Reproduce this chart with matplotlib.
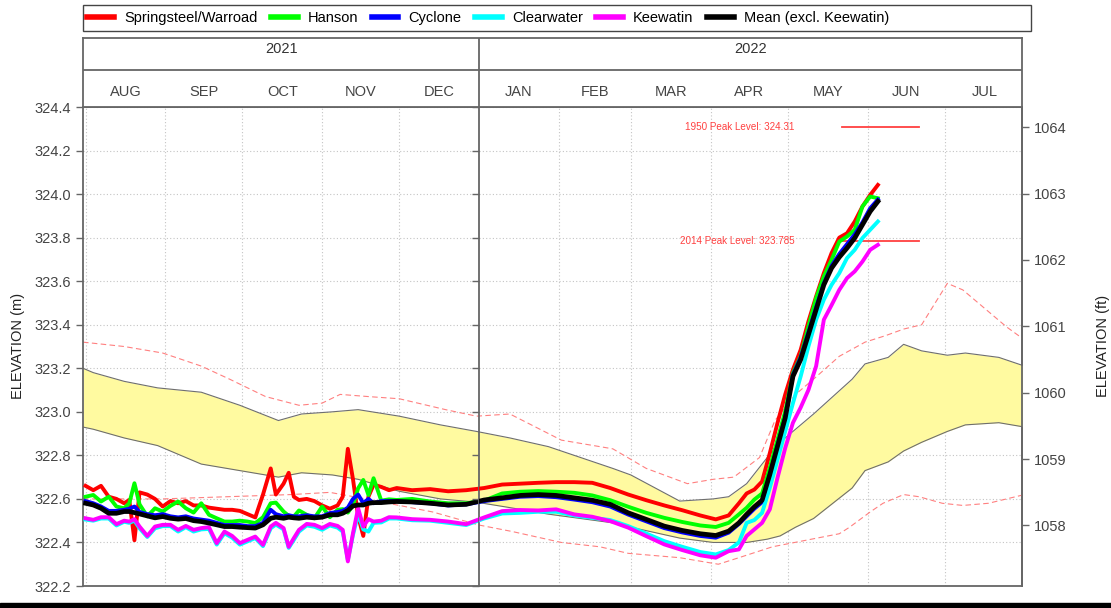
import numpy as np
import pandas as pd
import matplotlib
matplotlib.use("Agg")
import matplotlib.pyplot as plt
from matplotlib.patches import Rectangle
from matplotlib.lines import Line2D

plt.rcParams['font.family'] = ['Liberation Sans', 'DejaVu Sans']

# days after 2021-08-01 for the gauge series
day_offset = [0, 3, 6, 9, 12, 15, 17, 19, 21, 24, 27, 30, 33, 36, 39, 42, 45, 48, 51, 54,
              57, 60, 63, 66, 69, 72, 74, 77, 79, 81, 83, 86, 89, 92, 95, 98, 100, 102, 104, 106,
              108, 110, 112, 115, 118, 121,
              127, 134, 141, 148, 155, 162, 169, 176, 183, 190, 197, 204, 211, 218, 225, 232, 239, 245, 250, 254,
              257, 260, 263, 266, 269, 272, 275, 278, 281, 284, 287, 290, 293, 296, 299, 302, 305, 308]

springsteel = [322.66, 322.64, 322.66, 322.61, 322.60, 322.58, 322.595, 322.41, 322.63, 322.62,
               322.60, 322.565, 322.59, 322.58, 322.59, 322.57, 322.57, 322.56, 322.555, 322.55,
               322.55, 322.545, 322.53, 322.515, 322.62, 322.74, 322.62, 322.67, 322.72, 322.61,
               322.595, 322.60, 322.59, 322.57, 322.555, 322.57, 322.61, 322.83, 322.69, 322.52,
               322.43, 322.61, 322.665, 322.655, 322.64, 322.65,
               322.64, 322.645, 322.635, 322.64, 322.65, 322.666, 322.67, 322.674, 322.677, 322.677,
               322.674, 322.65, 322.62, 322.594, 322.57, 322.548, 322.524, 322.506, 322.524, 322.58,
               322.625, 322.643, 322.68, 322.81, 322.949, 323.08, 323.194, 323.285, 323.415, 323.53,
               323.637, 323.729, 323.80, 323.82, 323.874, 323.943, 323.996, 324.042]

hanson = [322.61, 322.618, 322.588, 322.61, 322.565, 322.557, 322.58, 322.672, 322.575, 322.52,
          322.557, 322.542, 322.568, 322.588, 322.557, 322.537, 322.58, 322.527, 322.511, 322.496,
          322.496, 322.50, 322.496, 322.489, 322.516, 322.58, 322.583, 322.542, 322.522, 322.519,
          322.547, 322.527, 322.511, 322.565, 322.516, 322.55, 322.553, 322.537, 322.572, 322.649,
          322.687, 322.618, 322.695, 322.592, 322.598, 322.595,
          322.60, 322.588, 322.58, 322.58, 322.592, 322.625, 322.633, 322.636, 322.633, 322.628,
          322.616, 322.594, 322.564, 322.536, 322.513, 322.494, 322.478, 322.471, 322.49, 322.529,
          322.559, 322.597, 322.625, 322.743, 322.873, 323.003, 323.178, 323.255, 323.392, 323.522,
          323.622, 323.698, 323.782, 323.805, 323.836, 323.943, 323.989, 323.981]

cyclone = [322.59, 322.58, 322.565, 322.545, 322.545, 322.55, 322.555, 322.565, 322.54, 322.53,
           322.525, 322.53, 322.52, 322.515, 322.52, 322.51, 322.505, 322.50, 322.49, 322.48,
           322.48, 322.48, 322.475, 322.475, 322.49, 322.55, 322.53, 322.52, 322.525, 322.52,
           322.52, 322.525, 322.52, 322.52, 322.535, 322.54, 322.545, 322.56, 322.60, 322.62,
           322.58, 322.60, 322.58, 322.59, 322.59, 322.59,
           322.585, 322.58, 322.57, 322.575, 322.59, 322.60, 322.61, 322.613, 322.608, 322.597,
           322.585, 322.565, 322.528, 322.497, 322.466, 322.446, 322.43, 322.422, 322.445, 322.485,
           322.52, 322.555, 322.585, 322.71, 322.845, 322.975, 323.17, 323.25, 323.365, 323.48,
           323.59, 323.67, 323.725, 323.77, 323.815, 323.87, 323.935, 323.975]

clearwater = [322.505, 322.50, 322.51, 322.51, 322.478, 322.495, 322.49, 322.50, 322.465, 322.425,
              322.465, 322.475, 322.475, 322.45, 322.47, 322.45, 322.46, 322.462, 322.39, 322.442,
              322.422, 322.39, 322.405, 322.42, 322.383, 322.465, 322.482, 322.46, 322.375, 322.412,
              322.45, 322.478, 322.472, 322.458, 322.478, 322.468, 322.45, 322.32, 322.435, 322.53,
              322.46, 322.45, 322.49, 322.492, 322.51, 322.51,
              322.502, 322.50, 322.49, 322.48, 322.51, 322.533, 322.536, 322.541, 322.541, 322.524,
              322.513, 322.503, 322.475, 322.441, 322.406, 322.38, 322.356, 322.345, 322.365, 322.40,
              322.49, 322.503, 322.536, 322.651, 322.781, 322.911, 323.04, 323.163, 323.30, 323.423,
              323.515, 323.583, 323.637, 323.706, 323.744, 323.798, 323.836, 323.874]

keewatin = [322.511, 322.504, 322.516, 322.516, 322.484, 322.50, 322.496, 322.507, 322.473, 322.43,
            322.473, 322.481, 322.481, 322.458, 322.476, 322.458, 322.466, 322.47, 322.397, 322.45,
            322.43, 322.397, 322.412, 322.427, 322.389, 322.473, 322.49, 322.466, 322.38, 322.42,
            322.458, 322.485, 322.481, 322.466, 322.485, 322.476, 322.458, 322.313, 322.443, 322.557,
            322.473, 322.507, 322.496, 322.50, 322.516, 322.515,
            322.507, 322.504, 322.496, 322.484, 322.515, 322.544, 322.549, 322.547, 322.552, 322.529,
            322.518, 322.498, 322.468, 322.429, 322.391, 322.365, 322.341, 322.33, 322.36, 322.368,
            322.43, 322.46, 322.49, 322.552, 322.697, 322.834, 322.95, 323.02, 323.10, 323.21,
            323.423, 323.49, 323.56, 323.614, 323.645, 323.69, 323.744, 323.767]

mean_excl = [322.58, 322.572, 322.557, 322.534, 322.534, 322.542, 322.542, 322.537, 322.531, 322.522,
             322.513, 322.519, 322.511, 322.507, 322.51, 322.50, 322.496, 322.489, 322.481, 322.473,
             322.473, 322.47, 322.468, 322.466, 322.481, 322.511, 322.516, 322.511, 322.516, 322.513,
             322.511, 322.516, 322.513, 322.516, 322.527, 322.527, 322.534, 322.547, 322.568, 322.572,
             322.572, 322.58, 322.583, 322.583, 322.586, 322.588,
             322.586, 322.58, 322.572, 322.575, 322.595, 322.605, 322.616, 322.62, 322.616, 322.605,
             322.594, 322.575, 322.536, 322.506, 322.475, 322.455, 322.44, 322.432, 322.452, 322.49,
             322.529, 322.564, 322.594, 322.712, 322.842, 322.972, 323.163, 323.24, 323.354, 323.469,
             323.583, 323.66, 323.71, 323.752, 323.798, 323.859, 323.92, 323.966]

# historical band (quartiles) and extremes
band_days = [-1, 3, 15, 28, 45, 60, 75, 84, 96, 106, 122, 138, 152, 165, 180, 205, 212, 231,
             244, 250, 257, 265, 270, 276, 283, 298, 303, 312, 318, 325, 335, 342, 355, 365]
band_upper = [323.20, 323.18, 323.14, 323.11, 323.09, 323.03, 322.96, 322.99, 323.00, 323.01,
              322.98, 322.94, 322.91, 322.88, 322.84, 322.74, 322.71, 322.59, 322.60, 322.61,
              322.67, 322.79, 322.86, 322.92, 322.99, 323.15, 323.22, 323.25, 323.31, 323.28,
              323.26, 323.27, 323.25, 323.21]
band_lower = [322.93, 322.92, 322.88, 322.845, 322.76, 322.73, 322.70, 322.72, 322.71, 322.69,
              322.635, 322.60, 322.585, 322.56, 322.53, 322.49, 322.47, 322.42, 322.40, 322.40,
              322.40, 322.415, 322.43, 322.47, 322.51, 322.65, 322.73, 322.77, 322.82, 322.86,
              322.91, 322.94, 322.95, 322.93]

max_days = [-1, 15, 30, 45, 56, 70, 83, 92, 99, 110, 122, 140, 152, 165, 185, 205, 218, 234, 244,
            252, 262, 268, 276, 283, 293, 303, 311, 318, 325, 335, 341, 349, 358, 365]
max_level = [323.32, 323.30, 323.27, 323.21, 323.15, 323.07, 323.03, 323.04, 323.08, 323.07,
             323.06, 323.01, 322.98, 322.99, 322.87, 322.83, 322.74, 322.67, 322.69, 322.70,
             322.79, 322.96, 323.08, 323.15, 323.255, 323.32, 323.35, 323.38, 323.40, 323.59,
             323.56, 323.48, 323.39, 323.33]

min_days = [-1, 30, 55, 80, 95, 109, 122, 135, 153, 166, 185, 200, 211, 231, 246, 254, 267, 293,
            297, 305, 310, 318, 324, 333, 341, 351, 365]
min_level = [322.60, 322.60, 322.61, 322.62, 322.63, 322.60, 322.57, 322.54, 322.48, 322.45,
             322.40, 322.38, 322.35, 322.33, 322.30, 322.33, 322.38, 322.44, 322.47, 322.54,
             322.58, 322.62, 322.61, 322.58, 322.57, 322.58, 322.62]

peak_levels = [324.31, 323.785]
peak_labels = ["1950 Peak Level: 324.31", "2014 Peak Level: 323.785"]
peak_span = [294, 324]
peak_label_day = 275.5

series_names = ["Springsteel/Warroad", "Hanson", "Cyclone", "Clearwater", "Keewatin",
                "Mean (excl. Keewatin)"]
series_colors = ["#ff0000", "#00ff00", "#0000ff", "#00ffff", "#ff00ff", "#000000"]
series_data = [springsteel, hanson, cyclone, clearwater, keewatin, mean_excl]

month_names = ["AUG", "SEP", "OCT", "NOV", "DEC", "JAN", "FEB", "MAR", "APR", "MAY", "JUN", "JUL"]

base = pd.Timestamp("2021-08-01")


def to_dates(days):
    return base + pd.to_timedelta(days, unit="D")


dates = to_dates(day_offset)
bdates = to_dates(band_days)

W, H = 1111, 608
fig = plt.figure(figsize=(W / 100, H / 100), dpi=100)

L, R = 83 / W, 1022 / W
B, T = (H - 586) / H, (H - 107) / H
MID = 479 / W

ax1 = fig.add_axes([L, B, MID - L, T - B])
ax2 = fig.add_axes([MID, B, R - MID, T - B], sharey=ax1)

edge = "#666666"
tick_col = "#444444"
start = pd.Timestamp("2021-07-31")
split = pd.Timestamp("2022-01-01")
end = pd.Timestamp("2022-07-31")
month_starts = pd.date_range("2021-08-01", "2022-08-01", freq="MS")

for ax in (ax1, ax2):
    ax.fill_between(bdates, band_lower, band_upper, color="#fffaa0", lw=0, zorder=1)
    ax.plot(bdates, band_upper, color="#6e6e6e", lw=0.8, zorder=2)
    ax.plot(bdates, band_lower, color="#6e6e6e", lw=0.8, zorder=2)
    ax.plot(to_dates(max_days), max_level, color="#ff8080", lw=0.8, ls=(0, (5, 3)), zorder=2)
    ax.plot(to_dates(min_days), min_level, color="#ff8080", lw=0.8, ls=(0, (5, 3)), zorder=2)
    for vals, col in zip(series_data, series_colors):
        lw = 3.4 if col == "#000000" else 2.8
        ax.plot(dates, vals, color=col, lw=lw, zorder=4, solid_joinstyle="round")
    for lvl in peak_levels:
        ax.plot(to_dates(peak_span), [lvl, lvl], color="#ff4040", lw=1.3, zorder=3)
    ax.set_ylim(322.2, 324.4)
    ax.set_yticks(np.arange(322.2, 324.41, 0.2))
    ax.grid(True, ls=(0, (1, 2)), color="#c4c4c4", lw=0.8, zorder=0)
    ax.set_axisbelow(True)
    for s in ax.spines.values():
        s.set_color(edge)
        s.set_linewidth(1.3)
    ax.tick_params(axis="x", length=0, labelbottom=False)
    ax.tick_params(axis="y", direction="out", length=5, width=1, color=edge,
                   labelsize=10.5, labelcolor=tick_col)

ax1.set_xlim(start, split)
ax2.set_xlim(split, end)
ax1.set_xticks([d for d in month_starts if start < d < split])
ax2.set_xticks([d for d in month_starts if split < d < end])
ax1.yaxis.set_major_formatter(plt.FuncFormatter(lambda v, p: f"{v:.1f}"))
ax2.tick_params(axis="y", labelleft=False)
ax1.spines["right"].set_visible(False)

for lvl, txt in zip(peak_levels, peak_labels):
    ax2.text(to_dates([peak_label_day])[0], lvl, txt, color="#ff4040", fontsize=7.1,
             ha="right", va="center", zorder=5)

sec = ax2.secondary_yaxis("right", functions=(lambda m: m / 0.3048, lambda f: f * 0.3048))
sec.set_yticks(range(1058, 1065))
sec.tick_params(direction="out", length=5, width=1, color=edge, labelsize=10.5, labelcolor=tick_col)
sec.spines["right"].set_color(edge)
sec.spines["right"].set_linewidth(1.3)

fig.text(18 / W, 1 - 346 / H, "ELEVATION (m)", rotation=90, ha="center", va="center",
         fontsize=10.5, color="#222222")
fig.text(1103 / W, 1 - 346 / H, "ELEVATION (ft)", rotation=90, ha="center", va="center",
         fontsize=10.5, color="#222222")

# header with years and months
hdr = fig.add_axes([L, T, R - L, (107 - 38) / H])
hdr.set_xlim(start, end)
hdr.set_ylim(0, 1)
hdr.set_xticks([])
hdr.set_yticks([])
for s in hdr.spines.values():
    s.set_color(edge)
    s.set_linewidth(1.3)
row = (107 - 70) / 69
hdr.axhline(row, color=edge, lw=1.3)
hdr.axvline(split, color=edge, lw=1.3)
hdr.text(start + (split - start) / 2, 0.84, "2021", ha="center", va="center",
         fontsize=10.5, color="#333333")
hdr.text(split + (end - split) / 2, 0.84, "2022", ha="center", va="center",
         fontsize=10.5, color="#333333")
for i, name in enumerate(month_names):
    mid = month_starts[i] + (month_starts[i + 1] - month_starts[i]) / 2
    hdr.text(mid, 0.217, name, ha="center", va="center", fontsize=10.5, color="#444444")

# legend
handles = [Line2D([], [], color=c, lw=4) for c in series_colors]
fig.legend(handles, series_names, loc="center left", bbox_to_anchor=(87 / W, 1 - 18 / H),
           ncol=6, frameon=False, fontsize=10.5, handlelength=1.85, handletextpad=0.7,
           columnspacing=0.9, borderaxespad=0, borderpad=0)
fig.patches.append(Rectangle((L, 1 - 31 / H), (1031 - 83) / W, 26 / H, transform=fig.transFigure,
                             fill=False, edgecolor="#444444", lw=1.0))
fig.patches.append(Rectangle((0, 0), 1, 5 / H, transform=fig.transFigure, color="black"))

fig.savefig("out.png", dpi=100)
